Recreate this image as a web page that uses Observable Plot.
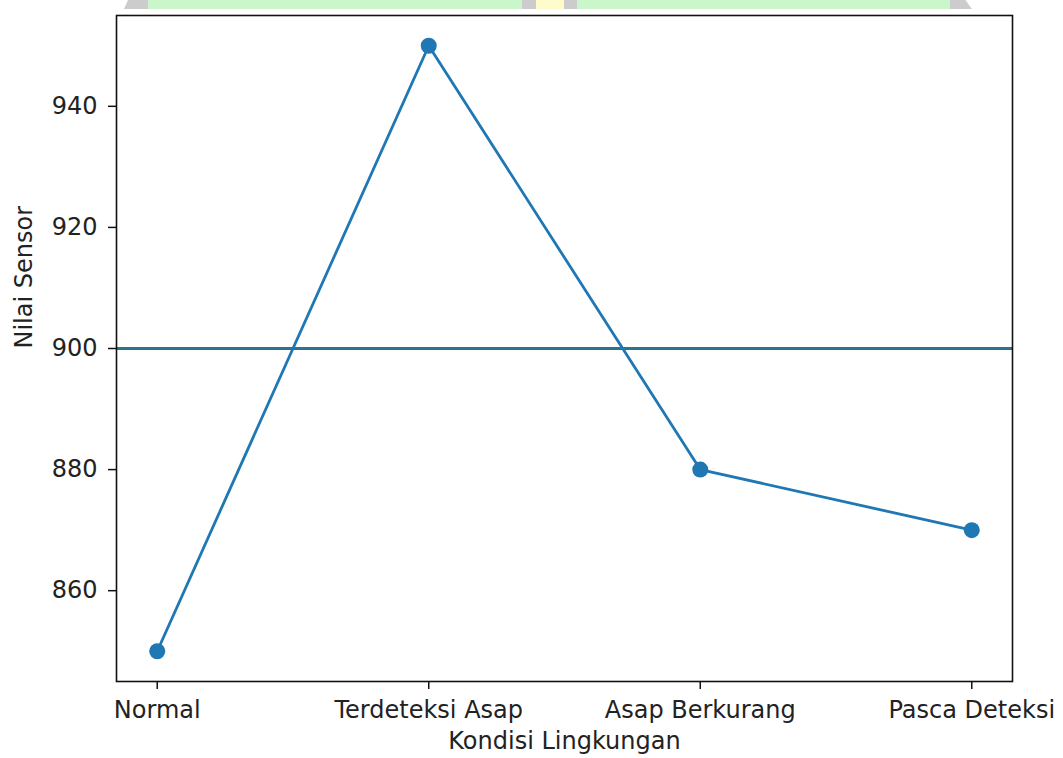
<!DOCTYPE html>
<html>
<head>
<meta charset="utf-8">
<script src="https://cdn.jsdelivr.net/npm/d3@7"></script>
<script src="https://cdn.jsdelivr.net/npm/@observablehq/plot@0.6"></script>
<style>
  html, body { margin: 0; padding: 0; background: #fff; }
  #wrap { position: relative; width: 1063px; height: 758px; overflow: hidden; }
  #band { position: absolute; left: 0; top: 0; width: 1063px; height: 9px; z-index: 2; }
  #band div { position: absolute; top: 0; height: 9px; }
  svg { font-family: "DejaVu Sans", sans-serif; }
</style>
</head>
<body>
<div id="wrap">
  <div id="band">
    <div style="left:124px;width:28px;background:#cccccc;clip-path:polygon(4px 0,100% 0,100% 100%,0 100%);"></div>
    <div style="left:148px;width:377px;background:#cbf6cc;"></div>
    <div style="left:522px;width:14px;background:#cccccc;"></div>
    <div style="left:536px;width:28px;background:#fefbcc;"></div>
    <div style="left:564px;width:14px;background:#cccccc;"></div>
    <div style="left:577px;width:376px;background:#cbf6cc;"></div>
    <div style="left:950px;width:22px;background:#cccccc;clip-path:polygon(0 0,70% 0,100% 100%,0 100%);"></div>
  </div>
  <div id="chart"></div>
</div>
<script>
const categories = ["Normal", "Terdeteksi Asap", "Asap Berkurang", "Pasca Deteksi"];
const sensorValues = [850, 950, 880, 870];
const threshold = 900;
const yTicks = [860, 880, 900, 920, 940];
const xLabel = "Kondisi Lingkungan";
const yLabel = "Nilai Sensor";

const data = categories.map((c, i) => ({i, c, v: sensorValues[i]}));
const lineColor = "#1f77b4";

const chart = Plot.plot({
  width: 1063,
  height: 758,
  marginLeft: 116,
  marginRight: 51,
  marginTop: 15,
  marginBottom: 77,
  style: {fontFamily: "DejaVu Sans, sans-serif", fontSize: "24px", color: "#222", background: "transparent"},
  x: {domain: [-0.15, 3.15], ticks: [0, 1, 2, 3], tickFormat: i => categories[i], tickSize: 8, tickPadding: 11, label: null},
  y: {domain: [845, 955], ticks: yTicks, tickSize: 8, tickPadding: 11, label: null},
  marks: [
    Plot.ruleY([threshold], {stroke: "#2a7391", strokeWidth: 2.8}),
    Plot.line(data, {x: "i", y: "v", stroke: lineColor, strokeWidth: 2.8}),
    Plot.dot(data, {x: "i", y: "v", r: 8, fill: lineColor, stroke: "none"}),
    Plot.frame({stroke: "#111", strokeWidth: 1.6}),
    Plot.axisX({ticks: [0, 1, 2, 3], tickFormat: i => categories[i], tickSize: 8, tickPadding: 11, stroke: "#111", strokeWidth: 1.5, fill: "#222", label: null}),
    Plot.axisY({ticks: yTicks, tickSize: 8, tickPadding: 11, stroke: "#111", strokeWidth: 1.5, fill: "#222", label: null}),
    Plot.text([xLabel], {frameAnchor: "bottom", dy: 67, fontSize: 24, fill: "#222"}),
    Plot.text([yLabel], {frameAnchor: "left", dx: -92, rotate: -90, fontSize: 24, fill: "#222"})
  ]
});
document.getElementById("chart").appendChild(chart);
</script>
</body>
</html>
